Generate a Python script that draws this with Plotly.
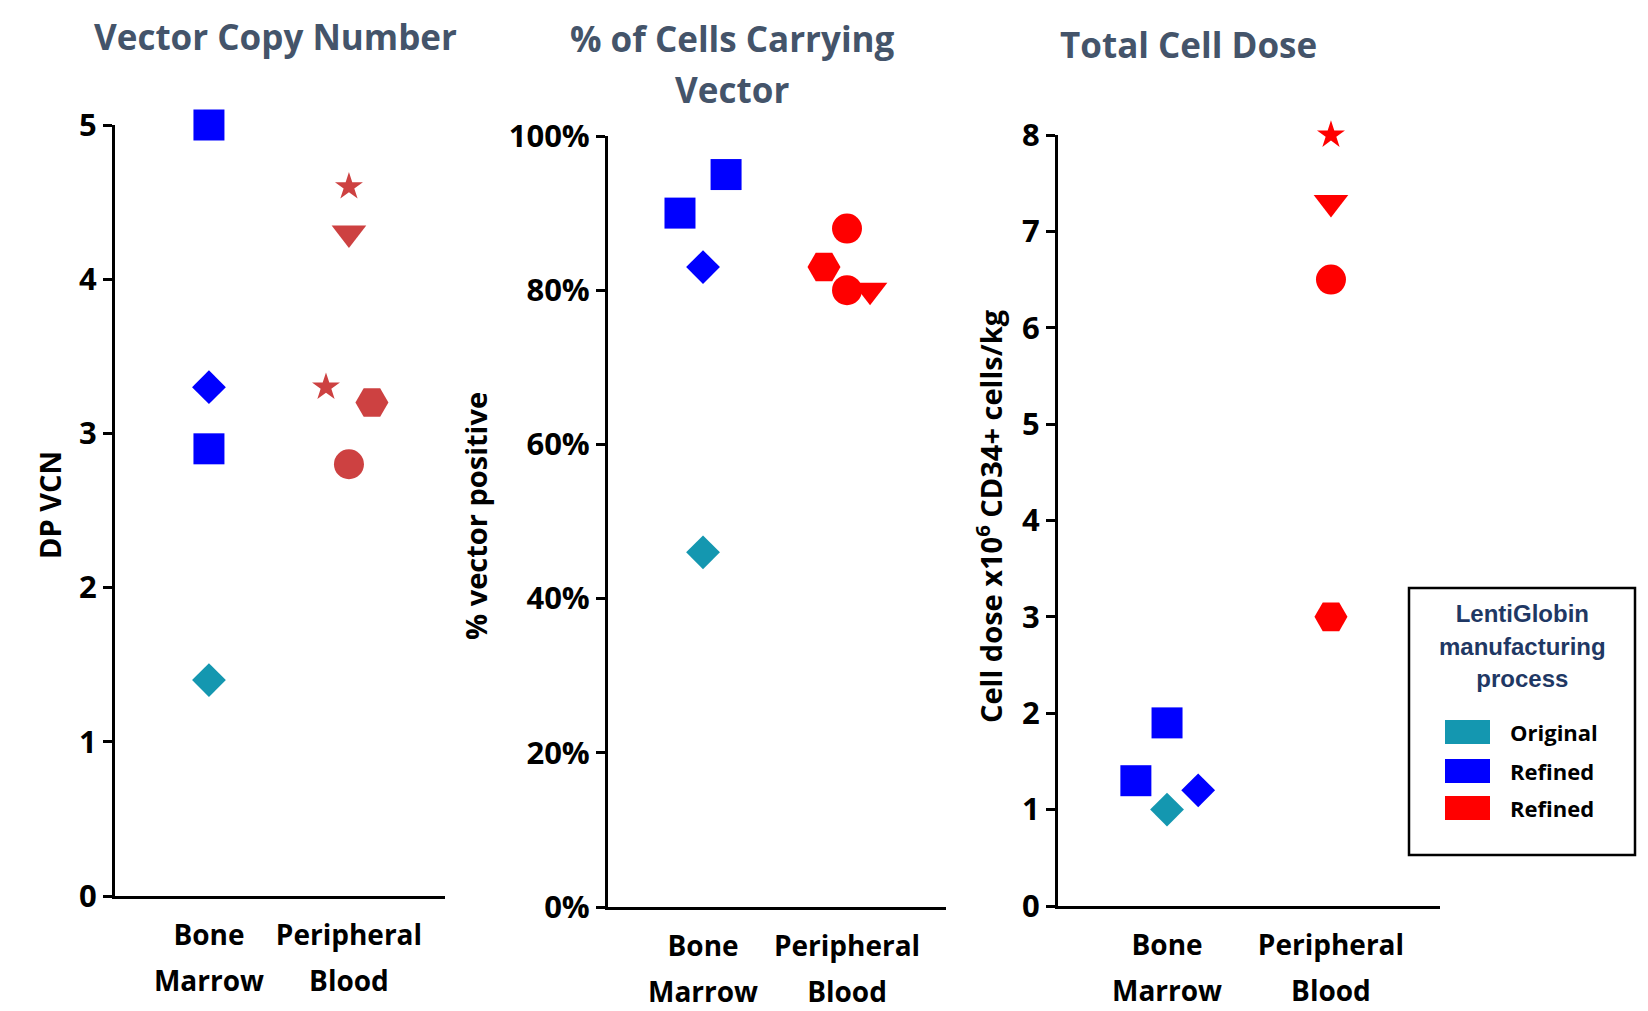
import plotly.graph_objects as go

# ---------------- data ----------------
categories = ["Bone Marrow", "Peripheral Blood"]
category_ticktext = ["Bone<br>Marrow", "Peripheral<br>Blood"]

# Panel 1: Vector Copy Number
vcn_category = ["Bone Marrow", "Bone Marrow", "Bone Marrow", "Bone Marrow",
                "Peripheral Blood", "Peripheral Blood", "Peripheral Blood",
                "Peripheral Blood", "Peripheral Blood"]
vcn_values = [5.0, 3.3, 2.9, 1.4, 4.6, 4.3, 3.3, 3.2, 2.8]
vcn_process = ["Refined", "Refined", "Refined", "Original",
               "Refined", "Refined", "Refined", "Refined", "Refined"]
vcn_patient_symbol = ["square", "diamond", "square", "diamond",
                      "star", "triangle-down", "star", "hexagon2", "circle"]
vcn_slot = [0, 0, 0, 0, 0, 0, -1, 1, 0]

# Panel 2: % of cells carrying vector
pct_category = ["Bone Marrow", "Bone Marrow", "Bone Marrow", "Bone Marrow",
                "Peripheral Blood", "Peripheral Blood", "Peripheral Blood",
                "Peripheral Blood"]
pct_values = [90, 95, 83, 46, 88, 83, 80, 80]
pct_process = ["Refined", "Refined", "Refined", "Original",
               "Refined", "Refined", "Refined", "Refined"]
pct_patient_symbol = ["square", "square", "diamond", "diamond",
                      "circle", "hexagon2", "circle", "triangle-down"]
pct_slot = [-1, 1, 0, 0, 0, -1, 0, 1]

# Panel 3: Total cell dose
dose_category = ["Bone Marrow", "Bone Marrow", "Bone Marrow", "Bone Marrow",
                 "Peripheral Blood", "Peripheral Blood", "Peripheral Blood",
                 "Peripheral Blood"]
dose_values = [1.9, 1.3, 1.2, 1.0, 8.0, 7.3, 6.5, 3.0]
dose_process = ["Refined", "Refined", "Refined", "Original",
                "Refined", "Refined", "Refined", "Refined"]
dose_patient_symbol = ["square", "square", "diamond", "diamond",
                       "star", "triangle-down", "circle", "hexagon2"]
dose_slot = [0, -1, 1, 0, 0, 0, 0, 0]

legend_labels = ["Original", "Refined", "Refined"]

# ---------------- styles ----------------
W, H = 1648, 1011
TEAL = "#1497B0"
BLUE = "#0000FF"
RED = "#FF0000"
RED_MUTED = "#CD4141"
TITLE_COLOR = "#44546A"
LEGEND_TITLE_COLOR = "#1F3864"
FONT = "Open Sans"

symbol_size = {"square": 31, "diamond": 26, "circle": 30, "triangle-down": 30,
               "star": 21, "hexagon2": 33}


def px_x(p):
    return p / W


def px_y(p):
    return 1 - p / H


panels = [
    dict(cat=vcn_category, val=vcn_values, proc=vcn_process, sym=vcn_patient_symbol,
         slot=vcn_slot, step=0.164, red=RED_MUTED,
         xdom=[px_x(115), px_x(445)], ydom=[px_y(896), px_y(125)],
         xrange=[0.329, 2.686], yrange=[0, 5], dtick=1, suffix=""),
    dict(cat=pct_category, val=pct_values, proc=pct_process, sym=pct_patient_symbol,
         slot=pct_slot, step=0.16, red=RED,
         xdom=[px_x(608), px_x(946)], ydom=[px_y(907), px_y(136)],
         xrange=[0.34, 2.6875], yrange=[0, 100], dtick=20, suffix="%"),
    dict(cat=dose_category, val=dose_values, proc=dose_process, sym=dose_patient_symbol,
         slot=dose_slot, step=0.19, red=RED,
         xdom=[px_x(1058), px_x(1440)], ydom=[px_y(906), px_y(135)],
         xrange=[0.335, 2.665], yrange=[0, 8], dtick=1, suffix=""),
]

fig = go.Figure()
layout = dict(template="none", width=W, height=H,
              margin=dict(l=0, r=0, t=0, b=0, pad=0, autoexpand=False),
              paper_bgcolor="white", plot_bgcolor="white", showlegend=False)

tick_text_html = ["<span style='font-size:28px'>" + t.replace("<br>", "</span><br><span style='font-size:28px'>") + "</span>"
                  for t in category_ticktext]

for i, p in enumerate(panels):
    n = "" if i == 0 else str(i + 1)
    xs, ys, cols, syms, sizes = [], [], [], [], []
    for c, v, pr, s, sl in zip(p["cat"], p["val"], p["proc"], p["sym"], p["slot"]):
        xs.append(categories.index(c) + 1 + sl * p["step"])
        ys.append(v)
        if pr == "Original":
            cols.append(TEAL)
        elif c == "Bone Marrow":
            cols.append(BLUE)
        else:
            cols.append(p["red"])
        syms.append(s)
        sizes.append(symbol_size[s])
    fig.add_trace(go.Scatter(
        x=xs, y=ys, mode="markers", xaxis="x" + n, yaxis="y" + n,
        cliponaxis=False,
        marker=dict(symbol=syms, size=sizes, color=cols, opacity=1, line=dict(width=0)),
        hoverinfo="y"))
    layout["xaxis" + n] = dict(
        domain=p["xdom"], range=p["xrange"], anchor="y" + n, automargin=False,
        showgrid=False, zeroline=False, showline=True, linecolor="black", linewidth=3,
        ticks="", tickmode="array", tickvals=[1, 2], ticktext=tick_text_html,
        tickfont=dict(family=FONT, size=35, color="black", weight="bold"),
        ticklabelstandoff=4, fixedrange=True)
    layout["yaxis" + n] = dict(
        domain=p["ydom"], range=p["yrange"], anchor="x" + n, automargin=False,
        showgrid=False, zeroline=False, showline=True, linecolor="black", linewidth=3,
        ticks="outside", ticklen=9, tickwidth=2.5, tickcolor="black",
        dtick=p["dtick"], tick0=0, ticksuffix=p["suffix"],
        tickfont=dict(family=FONT, size=31, color="black", weight="bold"),
        fixedrange=True)

fig.update_layout(**layout)

annotations = []
# panel titles
title_font = dict(family=FONT, size=35, color=TITLE_COLOR, weight="bold")
annotations.append(dict(text="Vector Copy Number", x=px_x(275), y=px_y(36),
                        xref="paper", yref="paper", showarrow=False,
                        xanchor="center", yanchor="middle", font=title_font))
annotations.append(dict(text="<span style='font-size:35px'>% of Cells Carrying</span><br><span style='font-size:35px'>Vector</span>",
                        x=px_x(732), y=px_y(64), xref="paper", yref="paper", showarrow=False,
                        xanchor="center", yanchor="middle",
                        font=dict(family=FONT, size=39, color=TITLE_COLOR, weight="bold")))
annotations.append(dict(text="Total Cell Dose", x=px_x(1188), y=px_y(45),
                        xref="paper", yref="paper", showarrow=False,
                        xanchor="center", yanchor="middle", font=title_font))

# y-axis titles
ytitle_font = dict(family=FONT, size=29, color="black", weight="bold")
annotations.append(dict(text="DP VCN", x=px_x(49), y=px_y(505), textangle=-90,
                        xref="paper", yref="paper", showarrow=False,
                        xanchor="center", yanchor="middle", font=ytitle_font))
annotations.append(dict(text="% vector positive", x=px_x(475), y=px_y(516), textangle=-90,
                        xref="paper", yref="paper", showarrow=False,
                        xanchor="center", yanchor="middle", font=ytitle_font))
annotations.append(dict(text="Cell dose x10<sup>6</sup> CD34+ cells/kg", x=px_x(989), y=px_y(516),
                        textangle=-90, xref="paper", yref="paper", showarrow=False,
                        xanchor="center", yanchor="middle", font=ytitle_font))

# legend box
shapes = [dict(type="rect", xref="paper", yref="paper",
               x0=px_x(1409), x1=px_x(1635), y0=px_y(855), y1=px_y(588),
               line=dict(color="black", width=2.5), fillcolor="white", layer="below")]
annotations.append(dict(text="<span style='font-size:24px'>LentiGlobin</span><br><span style='font-size:24px'>manufacturing</span><br><span style='font-size:24px'>process</span>",
                        x=px_x(1522), y=px_y(646), xref="paper", yref="paper", showarrow=False,
                        xanchor="center", yanchor="middle",
                        font=dict(family="Liberation Sans", size=25, color=LEGEND_TITLE_COLOR, weight="bold")))
legend_colors = [TEAL, BLUE, RED]
legend_y = [732, 771, 808]
for lab, col, yy in zip(legend_labels, legend_colors, legend_y):
    shapes.append(dict(type="rect", xref="paper", yref="paper",
                       x0=px_x(1445), x1=px_x(1490), y0=px_y(yy + 12), y1=px_y(yy - 12),
                       line=dict(width=0), fillcolor=col))
    annotations.append(dict(text=lab, x=px_x(1508), y=px_y(yy), xref="paper", yref="paper",
                            showarrow=False, xanchor="left", yanchor="middle",
                            font=dict(family=FONT, size=22, color="black", weight="bold")))

fig.update_layout(annotations=annotations, shapes=shapes)

fig.write_html("out.html", config={"displayModeBar": False},
               post_script="document.body.style.margin='0';document.body.style.overflow='hidden';")
